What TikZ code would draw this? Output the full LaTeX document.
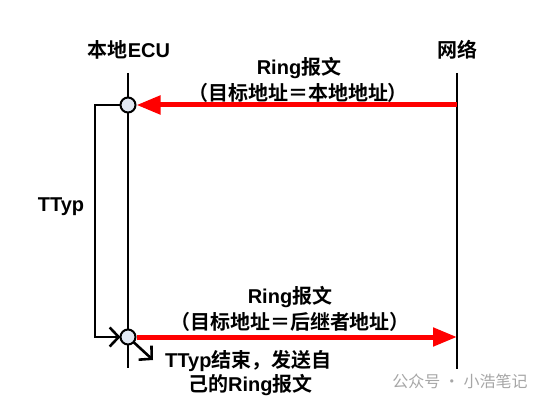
\documentclass[tikz,border=0pt]{standalone}
\usepackage{fontspec}
\setmainfont{Liberation Sans}
\newfontfamily\cjk[BoldFont={* Bold}]{Noto Sans CJK SC}
\usetikzlibrary{arrows.meta,positioning}

\newcommand{\zh}[1]{{\cjk #1}}
\definecolor{portfill}{HTML}{E1E8F3}

\tikzset{
  lifeline/.style={line width=2.6pt, black},
  msg/.style={line width=5pt, red, -{Triangle[length=24pt,width=18pt]}},
  port/.style={circle, draw, line width=2pt, fill=portfill, minimum size=15pt, inner sep=0pt},
  lbl/.style={font=\bfseries\fontsize{20}{25}\selectfont, align=center, inner sep=0pt},
  timer/.style={line width=2.6pt, -{Straight Barb[length=9pt,width=19pt,line width=2.6pt]}}
}

\begin{document}
\begin{tikzpicture}[x=1pt,y=-1pt]
  \useasboundingbox (0,0) rectangle (539,412);

  % lifelines
  \node[lbl] (ecu) at (129,50) {\zh{本地}ECU};
  \node[lbl] (net) at (457,50) {\zh{网络}};
  \coordinate (ecuTop) at (128,73);
  \coordinate (ecuBot) at (128,368);
  \coordinate (netTop) at (457,73);
  \coordinate (netBot) at (457,369);
  \draw[lifeline] (ecuTop) -- (ecuBot);
  \draw[lifeline] (netTop) -- (netBot);

  % TTyp timer (drawn under the ports)
  \coordinate (tTop) at (95,105);
  \coordinate (tBot) at (95,337);
  \coordinate (timeout) at (153,360);
  \draw[line width=2.6pt] (128,105) -- (tTop) -- (tBot) -- (121,337);
  \draw[timer] (128,337) -- (timeout);

  % receive / transmit points
  \node[port] (rx) at (128,105) {};
  \node[port] (tx) at (128,337) {};
  \coordinate (netRx) at (457,105);
  \coordinate (netTx) at (457,337);
  \draw[timer] (tBot) -- ([xshift=1pt]tx.west);

  % messages
  \draw[msg] (netRx) -- (rx.east);
  \draw[msg] (tx.east) -- (netTx);
  \node[lbl] (ringIn) at (299,68) {Ring\zh{报文}};
  \node[lbl] (addrIn) at (298,93) {\zh{（目标地址＝本地地址）}};
  \node[lbl] (ringOut) at (290,297) {Ring\zh{报文}};
  \node[lbl] (addrOut) at (290,322) {\zh{（目标地址＝后继者地址）}};

  \node[lbl] (ttyp) at (61,207) {TTyp};
  \node[lbl, anchor=west] (ttypEnd) at (165,361) {TTyp\zh{结束，发送自}};
  \node[lbl, anchor=west] (ttypEnd2) at (188,385) {\zh{己的}Ring\zh{报文}};

  % watermark
  \node[font=\cjk\fontsize{16}{18}\selectfont, text=black!35, inner sep=0pt] (wm) at (460,381) {公众号 · 小浩笔记};
\end{tikzpicture}
\end{document}
